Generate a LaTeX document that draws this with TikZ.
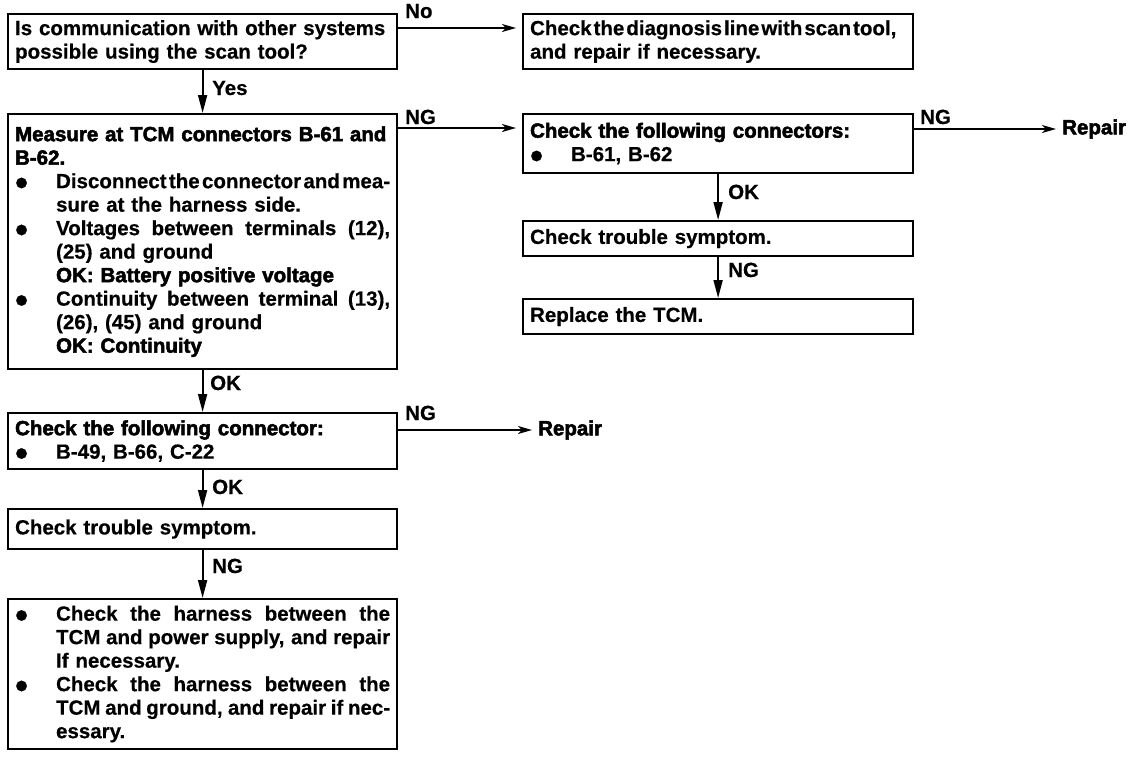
\documentclass[tikz,border=0pt]{standalone}
\usepackage{fontspec}
\setmainfont[FakeBold=0.5]{Liberation Sans}
\newfontfamily\hvfont[FakeBold=2.5]{Liberation Sans}
\usetikzlibrary{arrows.meta}
\newcommand\hv{\hvfont\bfseries}
\newcommand\txt{\fontsize{20.5pt}{23.5pt}\selectfont\bfseries}
\newcommand\bl{\makebox[41pt][l]{\hspace{0pt}\smash{\raisebox{-7pt}{\scalebox{1.8}{\textbullet}}}}}
\newcommand\ind{\hspace*{41pt}}
\newcommand\jl[1]{\makebox[334pt][s]{\spaceskip=2pt plus 30pt #1}}
\begin{document}
\begin{tikzpicture}[x=1pt,y=-1pt,
  box/.style={draw,line width=2.2pt,anchor=north west,inner xsep=7pt,inner ysep=2pt,
              text width=375pt,align=left,font=\txt},
  rbox/.style={box,text width=376pt},
  lbl/.style={anchor=base west,inner sep=0pt,font=\txt},
  varr/.style={line width=1.8pt,-{Triangle[length=18pt,width=9pt]}},
  harr/.style={line width=1.6pt,-{Stealth[length=14pt,width=8pt,inset=4pt]},shorten >=6pt}]
\useasboundingbox (0,0) rectangle (1136,758);
\fill[white] (0,0) rectangle (1136,758);

% left column
\node[box,minimum height=55pt] (q1) at (7,13)
  {Is communication with other systems\\possible using the scan tool?};
\node[box,minimum height=255pt] (m) at (7,113)
  {{\hv Measure at TCM connectors B-61 and}\\
   {\hv B-62.}\\
   \bl\jl{Disconnect the connector and mea-}\\
   \ind sure at the harness side.\\
   \bl\jl{Voltages between terminals (12),}\\
   \ind (25) and ground\\
   \ind{\hv OK: Battery positive voltage}\\
   \bl\jl{Continuity between terminal (13),}\\
   \ind (26), (45) and ground\\
   \ind{\hv OK: Continuity}};
\node[box,minimum height=56pt] (c1) at (7,412)
  {\makebox[331pt][s]{\hv Check the following connector:}\\
   \bl B-49, B-66, C-22};
\node[box,minimum height=40pt] (t1) at (7,508) {Check trouble symptom.};
\node[box,minimum height=150pt] (h) at (7,598)
  {\bl\jl{Check the harness between the}\\
   \ind\jl{TCM and power supply, and repair}\\
   \ind If necessary.\\
   \bl\jl{Check the harness between the}\\
   \ind\jl{TCM and ground, and repair if nec-}\\
   \ind essary.};

% right column
\node[rbox,minimum height=55pt] (d) at (522,13)
  {{\spaceskip=2pt Check the diagnosis line with scan tool,}\\and repair if necessary.};
\node[rbox,minimum height=59pt] (c2) at (522,113)
  {\makebox[345pt][s]{\hv Check the following connectors:}\\
   \bl B-61, B-62};
\node[rbox,minimum height=35pt] (t2) at (522,220) {Check trouble symptom.};
\node[rbox,minimum height=35pt] (r) at (522,298) {Replace the TCM.};

% repair targets
\node[anchor=west,inner sep=0pt,font=\txt] (rep1) at (1062,129) {\hv Repair};
\node[anchor=west,inner sep=0pt,font=\txt] (rep2) at (538,430) {\hv Repair};

% vertical connectors
\draw[varr] (q1.south) -- (m.north);
\draw[varr] (m.south) -- (c1.north);
\draw[varr] (c1.south) -- (t1.north);
\draw[varr] (t1.south) -- (h.north);
\draw[varr] (c2.south) -- (t2.north);
\draw[varr] (t2.south) -- (r.north);

% horizontal connectors
\draw[harr] ([yshift=-15pt]q1.north east) -- ([yshift=-15pt]d.north west);
\draw[harr] ([yshift=-15pt]m.north east) -- ([yshift=-15pt]c2.north west);
\draw[harr] ([yshift=-16pt]c2.north east) -- (rep1.west);
\draw[harr] ([yshift=-18pt]c1.north east) -- (rep2.west);

% labels
\node[lbl] (lno) at (405,18) {No};
\node[lbl] (lyes) at (212,95) {Yes};
\node[lbl] (lng1) at (405,124) {NG};
\node[lbl] (lng2) at (920,124) {NG};
\node[lbl] (lok1) at (210,390) {OK};
\node[lbl] (lng3) at (405,420) {NG};
\node[lbl] (lok2) at (212,494) {OK};
\node[lbl] (lng4) at (212,573) {NG};
\node[lbl] (lok3) at (728,199) {OK};
\node[lbl] (lng5) at (728,277) {NG};
\end{tikzpicture}
\end{document}
